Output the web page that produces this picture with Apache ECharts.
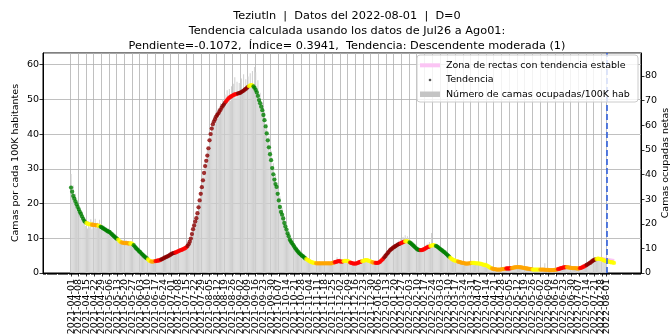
<!DOCTYPE html>
<html>
<head>
<meta charset="utf-8">
<script src="https://cdn.jsdelivr.net/npm/echarts@6/dist/echarts.min.js"></script>
<style>
  html, body { margin: 0; padding: 0; background: #fff; }
  #chart { width: 671px; height: 335px; }
</style>
</head>
<body>
<div id="chart"></div>
<script>
// ---- data ----
const firstDate = '2021-04-01';           // day 0 of all daily series
const axisFirstDay = -25;                 // x axis extent, in days from firstDate
const axisLastDay = 518;

const tickLabels = [
  '2021-04-01','2021-04-08','2021-04-15','2021-04-22','2021-04-29','2021-05-06','2021-05-13','2021-05-20','2021-05-27',
  '2021-06-03','2021-06-10','2021-06-17','2021-06-24','2021-07-01','2021-07-08','2021-07-15','2021-07-22','2021-07-29',
  '2021-08-05','2021-08-12','2021-08-19','2021-08-26','2021-09-02','2021-09-09','2021-09-16','2021-09-23','2021-09-30',
  '2021-10-07','2021-10-14','2021-10-21','2021-10-28','2021-11-04','2021-11-11','2021-11-18','2021-11-25','2021-12-02',
  '2021-12-09','2021-12-16','2021-12-23','2021-12-30','2022-01-06','2022-01-13','2022-01-20','2022-01-27','2022-02-03',
  '2022-02-10','2022-02-17','2022-02-24','2022-03-03','2022-03-10','2022-03-17','2022-03-24','2022-03-31','2022-04-07',
  '2022-04-14','2022-04-21','2022-04-28','2022-05-05','2022-05-12','2022-05-19','2022-05-26','2022-06-02','2022-06-09',
  '2022-06-16','2022-06-23','2022-06-30','2022-07-07','2022-07-14','2022-07-21','2022-07-28','2022-08-01'
];
const reportDate = '2022-08-01';

// daily occupied beds per 100K inhabitants, from 2021-04-01
const bedsPer100k = [
  28.5,22.0,25.2,19.5,22.8,18.0,20.5,16.2,19.0,15.5,
  17.8,14.2,16.0,13.5,15.2,12.8,14.9,13.2,15.5,12.6,
  14.8,13.0,15.6,12.9,14.5,13.8,15.3,12.5,14.0,12.2,
  13.6,11.8,13.2,11.5,12.8,10.9,12.4,10.5,11.8,10.2,
  11.0,9.5,10.6,9.0,9.9,8.4,9.6,8.2,9.4,8.0,
  9.5,8.1,9.2,7.9,9.0,8.2,9.3,7.4,8.1,6.8,
  7.4,6.0,6.9,5.6,6.3,4.9,5.7,4.4,5.0,3.9,
  4.5,3.3,3.8,2.9,3.7,3.1,3.9,3.0,3.8,3.4,
  4.0,3.3,4.3,3.7,4.6,4.0,4.9,4.3,5.2,4.6,
  5.6,5.0,6.0,5.3,6.2,5.5,6.4,5.8,6.7,6.1,
  7.0,6.4,7.3,6.6,7.6,7.0,8.2,8.0,9.8,9.5,
  12.0,12.9,14.6,14.0,17.1,16.5,20.3,20.0,24.1,23.8,
  28.2,27.6,32.5,31.0,35.8,35.2,40.1,39.0,43.5,41.8,
  45.2,43.0,46.8,44.2,47.5,45.1,48.9,46.2,50.1,47.3,
  51.4,48.2,52.6,49.1,53.0,49.6,53.8,50.2,54.5,56.4,
  50.4,55.1,50.9,54.7,51.2,56.0,51.6,57.2,52.0,55.8,
  52.9,56.6,53.1,57.5,53.4,58.2,52.8,59.3,57.8,51.2,
  55.5,48.6,51.9,46.8,49.2,44.1,46.5,41.3,43.0,37.9,
  39.4,33.8,35.1,30.0,31.6,27.2,28.4,24.5,25.3,21.0,
  22.1,17.9,18.8,15.6,16.5,13.2,14.0,11.5,12.2,9.8,
  10.4,8.6,9.2,7.6,8.3,6.9,7.4,6.2,6.6,5.5,
  5.9,4.9,5.3,4.4,4.8,3.9,4.2,3.5,3.8,3.1,
  3.5,2.8,3.2,2.6,3.1,2.7,3.3,2.5,3.0,2.6,
  3.2,2.5,3.0,2.7,3.3,2.6,3.1,2.5,3.2,2.9,
  3.6,3.0,4.5,3.4,4.2,3.1,3.8,3.2,3.9,3.4,
  4.0,3.3,3.6,2.9,3.3,2.7,3.1,2.5,2.9,2.6,
  3.2,2.8,3.5,3.1,3.9,3.3,4.0,3.5,4.2,3.6,
  3.9,3.3,3.7,3.0,3.4,2.8,3.3,2.7,3.2,2.8,
  3.4,3.1,4.0,3.6,4.6,4.2,5.4,5.0,6.3,5.9,
  7.2,6.6,7.8,7.1,8.3,7.5,8.7,8.0,9.3,8.5,
  9.8,8.8,10.4,9.2,10.9,9.5,10.6,9.1,9.7,8.6,
  9.0,7.9,8.2,7.1,7.6,6.5,7.2,6.3,7.0,6.2,
  7.3,6.5,7.8,6.9,8.4,7.3,8.9,7.6,11.5,7.9,
  8.6,7.6,8.2,7.2,7.9,6.8,7.3,6.3,6.8,5.8,
  6.3,5.3,5.7,4.7,5.1,4.2,4.5,3.7,4.0,3.4,
  3.8,3.1,3.5,3.0,3.3,2.8,3.1,2.7,3.0,2.5,
  3.0,2.5,3.1,2.6,3.2,2.7,3.3,2.6,3.1,2.6,
  3.0,2.5,2.9,2.4,2.7,2.2,2.5,2.1,2.4,1.9,
  2.0,1.5,1.7,1.2,1.4,1.0,1.3,0.9,1.2,0.9,
  1.2,0.9,1.3,1.0,1.4,1.1,1.5,1.2,1.5,1.2,
  1.6,1.3,1.8,1.4,1.9,1.5,1.9,1.6,1.8,1.5,
  1.8,1.4,1.7,1.3,1.5,1.2,1.4,1.1,1.3,1.0,
  1.2,0.9,1.2,0.9,1.1,0.9,1.2,0.8,1.1,0.9,
  1.1,2.8,1.0,0.7,1.0,0.7,0.9,0.7,1.0,0.6,
  1.0,0.8,1.2,0.9,1.4,1.1,1.6,1.3,1.8,1.5,
  1.9,1.5,1.8,1.4,1.7,1.3,1.6,1.3,1.6,1.2,
  1.5,1.2,1.5,1.3,1.7,1.5,2.0,1.8,2.4,2.1,
  2.8,2.4,3.2,2.8,3.7,3.2,4.1,3.6,4.4,3.9,
  4.4,3.8,4.3,3.6,4.0,3.4,3.8,3.2
];

// smoothed trend per day, from 2021-04-01
const trendValues = [
  24.6,23.4,22.2,21.4,20.6,19.8,19.0,18.3,17.6,17.0,
  16.3,15.6,15.0,14.6,14.4,14.2,14.1,14.0,14.0,13.9,
  13.9,13.8,13.8,13.7,13.7,13.6,13.5,13.3,13.1,12.9,
  12.7,12.5,12.3,12.1,11.9,11.8,11.5,11.2,10.9,10.6,
  10.3,10.0,9.8,9.6,9.2,8.9,8.8,8.7,8.7,8.6,
  8.6,8.6,8.5,8.5,8.5,8.5,8.3,8.0,7.6,7.2,
  6.9,6.6,6.2,6.0,5.6,5.3,5.0,4.7,4.4,4.2,
  3.9,3.6,3.4,3.3,3.3,3.3,3.4,3.4,3.5,3.6,
  3.6,3.7,3.9,4.0,4.2,4.4,4.5,4.7,4.8,5.0,
  5.2,5.4,5.6,5.7,5.8,5.9,6.0,6.2,6.3,6.5,
  6.6,6.7,6.9,7.0,7.2,7.4,7.8,8.3,9.0,9.9,
  11.2,12.6,13.7,14.8,15.8,17.2,18.9,20.9,22.8,24.7,
  26.7,28.8,30.8,32.3,33.8,35.9,38.2,40.0,41.6,42.8,
  43.6,44.3,45.0,45.5,45.9,46.5,47.0,47.6,48.1,48.5,
  49.0,49.4,49.8,50.2,50.5,50.7,50.9,51.1,51.3,51.4,
  51.5,51.6,51.7,51.8,51.9,52.1,52.3,52.5,52.8,53.0,
  53.3,53.6,53.8,54.0,54.1,54.0,53.7,53.3,52.7,52.0,
  51.0,49.8,48.9,47.9,46.9,45.5,44.0,42.2,40.2,38.2,
  36.2,34.2,32.5,30.2,28.4,26.9,25.6,24.8,22.8,20.9,
  19.0,17.6,16.8,15.7,14.4,13.4,12.5,11.4,10.6,9.6,
  9.1,8.6,8.1,7.6,7.1,6.7,6.3,5.9,5.6,5.3,
  5.0,4.8,4.5,4.2,4.0,3.8,3.6,3.4,3.2,3.1,
  3.0,2.9,2.9,2.8,2.8,2.8,2.8,2.8,2.8,2.8,
  2.8,2.8,2.8,2.8,2.8,2.8,2.8,2.8,2.9,3.0,
  3.1,3.2,3.3,3.4,3.4,3.3,3.3,3.3,3.4,3.5,
  3.5,3.5,3.4,3.2,3.0,2.9,2.8,2.7,2.7,2.7,
  2.8,2.9,3.1,3.2,3.3,3.4,3.5,3.6,3.7,3.7,
  3.6,3.5,3.4,3.2,3.1,3.0,3.0,2.9,2.9,2.9,
  3.0,3.2,3.5,3.8,4.1,4.5,4.9,5.3,5.7,6.1,
  6.5,6.8,7.0,7.3,7.5,7.7,7.9,8.1,8.3,8.4,
  8.6,8.7,8.9,9.0,9.1,9.2,9.1,9.0,8.8,8.6,
  8.3,8.0,7.7,7.4,7.1,6.8,6.7,6.6,6.6,6.6,
  6.7,6.8,7.0,7.2,7.4,7.5,7.6,7.8,7.9,8.0,
  8.0,7.9,7.8,7.6,7.4,7.1,6.9,6.6,6.4,6.1,
  5.9,5.6,5.3,5.0,4.7,4.4,4.1,3.9,3.7,3.6,
  3.5,3.4,3.3,3.2,3.1,3.0,2.9,2.9,2.8,2.7,
  2.7,2.7,2.8,2.8,2.9,2.9,2.9,2.9,2.8,2.8,
  2.8,2.7,2.7,2.6,2.5,2.4,2.3,2.3,2.2,2.0,
  1.8,1.6,1.4,1.3,1.2,1.1,1.1,1.0,1.0,1.0,
  1.0,1.0,1.1,1.1,1.2,1.2,1.3,1.3,1.3,1.3,
  1.4,1.4,1.5,1.6,1.6,1.7,1.7,1.7,1.7,1.6,
  1.6,1.5,1.5,1.4,1.3,1.3,1.2,1.2,1.1,1.1,
  1.0,1.0,1.0,1.0,1.0,1.0,1.0,1.0,1.0,1.0,
  1.0,0.9,0.9,0.9,0.9,0.8,0.8,0.8,0.8,0.8,
  0.9,0.9,1.0,1.1,1.2,1.3,1.4,1.5,1.6,1.6,
  1.7,1.7,1.6,1.6,1.5,1.5,1.4,1.4,1.4,1.4,
  1.3,1.3,1.3,1.4,1.5,1.6,1.8,1.9,2.1,2.3,
  2.5,2.7,2.9,3.1,3.4,3.6,3.8,3.9,4.0,4.1,
  4.1,4.0,4.0,3.9,3.7,3.6,3.5,3.4,3.4,3.3,
  3.2,3.1,3.1,3.0,2.9
];

// trend class per run of days: G descending, Y stable, O/R/D rising (mild to strong)
const trendClassRuns = [
  ['G',14],['Y',5],['O',6],['Y',2],['G',16],['Y',3],['O',8],['Y',3],['G',13],['Y',3],
  ['O',4],['R',5],['D',13],['R',11],['D',35],['R',11],['D',10],['Y',4],['G',48],['Y',9],
  ['O',17],['R',8],['Y',6],['R',11],['Y',9],['O',3],['R',8],['D',15],['R',4],['Y',4],
  ['G',10],['R',9],['Y',5],['G',13],['Y',7],['O',13],['Y',18],['O',13],['R',5],['O',19],
  ['Y',7],['O',16],['R',8],['O',12],['R',6],['D',9],['Y',17]
];
const trendClassColors = { G: '#008000', Y: '#ffff00', O: '#ffa500', R: '#ff0000', D: '#8b0000' };

// stable-trend zone drawn around the last week: [day, value]
const stableZone = [[481, 4.0], [494, 3.3]];

// ---- build axis categories ----
function dateAt(offset) {
  const [y, m, d] = firstDate.split('-').map(Number);
  return new Date(Date.UTC(y, m - 1, d) + offset * 86400000).toISOString().slice(0, 10);
}
const categories = [];
for (let d = axisFirstDay; d <= axisLastDay; d++) categories.push(dateAt(d));
const idx = d => d - axisFirstDay;
const tickPos = new Map(tickLabels.map((t, k) => [t, k]));
const isTick = (i) => tickPos.has(categories[i]);
// date labels are split over two label rows (alternate weeks) that share the same line
const isEvenTick = (i) => tickPos.has(categories[i]) && tickPos.get(categories[i]) % 2 === 0;
const isOddTick = (i) => tickPos.has(categories[i]) && tickPos.get(categories[i]) % 2 === 1;

const barData = bedsPer100k.map((v, d) => [idx(d), v]);

const trendColorByDay = [];
trendClassRuns.forEach(([c, n]) => { for (let k = 0; k < n; k++) trendColorByDay.push(trendClassColors[c]); });
const trendData = trendValues.map((v, d) => ({ value: [idx(d), v], itemStyle: { color: trendColorByDay[d] } }));

const zoneData = stableZone.map(([d, v]) => [idx(d), v]);

// ---- chart ----
const FONT = 'DejaVu Sans';
const LEFT_MAX = 63.35, RIGHT_MAX = 89.35;
const chart = echarts.init(document.getElementById('chart'), null, { renderer: 'canvas' });

const dateLabelStyle = { show: true, hideOverlap: false, rotate: 90, margin: 6, fontSize: 9.5, color: '#000', fontFamily: FONT };

chart.setOption({
  animation: false,
  backgroundColor: '#ffffff',
  textStyle: { fontFamily: FONT },
  title: {
    text: 'Teziutln  |  Datos del 2022-08-01  |  D=0\n' +
          'Tendencia calculada usando los datos de Jul26 a Ago01:\n' +
          'Pendiente=-0.1072,  Índice= 0.3941,  Tendencia: Descendente moderada (1)',
    left: 342, top: 3, textAlign: 'center',
    textStyle: { fontFamily: FONT, fontSize: 11.3, fontWeight: 'normal', color: '#000', lineHeight: 15.3 }
  },
  grid: {
    left: 43, right: 30, top: 53, bottom: 62, containLabel: false, outerBoundsMode: 'none',
    show: true, borderColor: '#000', borderWidth: 1, backgroundColor: 'transparent'
  },
  xAxis: [
    {
      type: 'category', data: categories, boundaryGap: true, position: 'bottom',
      axisLine: { show: true, lineStyle: { color: '#000', width: 1 } },
      axisTick: { show: true, alignWithLabel: true, interval: isTick, length: 3.5, lineStyle: { color: '#000', width: 0.8 } },
      axisLabel: Object.assign({ interval: isEvenTick }, dateLabelStyle),
      splitLine: { show: true, interval: isTick, lineStyle: { color: '#b0b0b0', width: 0.8 } }
    },
    {
      type: 'category', data: categories, boundaryGap: true, position: 'bottom',
      axisLine: { show: false },
      axisTick: { show: true, alignWithLabel: true, interval: 0, length: 2, lineStyle: { color: '#000', width: 0.6 } },
      axisLabel: { show: false },
      splitLine: { show: false }
    },
    {
      type: 'category', data: categories, boundaryGap: true, position: 'bottom',
      axisLine: { show: false },
      axisTick: { show: false },
      axisLabel: Object.assign({ interval: isOddTick }, dateLabelStyle),
      splitLine: { show: false }
    }
  ],
  yAxis: [
    {
      type: 'value', min: 0, max: LEFT_MAX, interval: 10, position: 'left',
      name: 'Camas por cada 100K habitantes', nameLocation: 'middle', nameRotate: 90, nameGap: 22,
      nameMoveOverlap: false,
      nameTextStyle: { fontFamily: FONT, fontSize: 9.5, color: '#000' },
      axisLine: { show: true, lineStyle: { color: '#000', width: 1 } },
      axisTick: { show: true, length: 3.5, lineStyle: { color: '#000', width: 0.8 } },
      axisLabel: { fontSize: 9.5, color: '#000', margin: 4, fontFamily: FONT, showMaxLabel: false,
                   formatter: v => (Math.abs(v % 10) < 1e-6 ? String(v) : '') },
      splitLine: { show: true, lineStyle: { color: '#b0b0b0', width: 0.8 } }
    },
    {
      type: 'value', min: 0, max: RIGHT_MAX, interval: 10, position: 'right',
      name: 'Camas ocupadas netas', nameLocation: 'middle', nameRotate: 90, nameGap: 20,
      nameMoveOverlap: false,
      nameTextStyle: { fontFamily: FONT, fontSize: 9.5, color: '#000' },
      axisLine: { show: true, lineStyle: { color: '#000', width: 1 } },
      axisTick: { show: true, length: 3.5, lineStyle: { color: '#000', width: 0.8 } },
      axisLabel: { fontSize: 9.5, color: '#000', margin: 4, fontFamily: FONT, showMaxLabel: false,
                   formatter: v => (Math.abs(v % 10) < 1e-6 ? String(v) : '') },
      splitLine: { show: false }
    }
  ],
  series: [
    {
      name: 'Número de camas ocupadas/100K hab', type: 'bar', xAxisIndex: 0, yAxisIndex: 0,
      data: barData, barWidth: '50%', itemStyle: { color: '#cfcfcf' }, z: 2, silent: true,
      markLine: {
        silent: true, symbol: 'none', label: { show: false },
        lineStyle: { color: '#3060dd', type: [6, 3], width: 1.6 },
        data: [{ xAxis: reportDate }]
      }
    },
    {
      name: 'Zona de rectas con tendencia estable', type: 'line', xAxisIndex: 0, yAxisIndex: 0,
      data: zoneData, symbol: 'none', lineStyle: { color: '#fbc4f4', width: 5 }, z: 3, silent: true
    },
    {
      name: 'Tendencia', type: 'scatter', xAxisIndex: 0, yAxisIndex: 0,
      data: trendData, symbolSize: 4.3, z: 4, silent: true
    }
  ],
  graphic: [
    { type: 'rect', z: 100, shape: { x: 417, y: 55, width: 221, height: 47, r: 3 },
      style: { fill: 'rgba(255,255,255,0.8)', stroke: '#cccccc', lineWidth: 1 } },
    { type: 'rect', z: 101, shape: { x: 420, y: 63.3, width: 20, height: 4 }, style: { fill: '#fbc4f4' } },
    { type: 'circle', z: 101, shape: { cx: 430, cy: 80, r: 1.3 }, style: { fill: '#555555' } },
    { type: 'rect', z: 101, shape: { x: 420, y: 91.5, width: 20, height: 5.5 }, style: { fill: '#c4c4c4' } },
    { type: 'text', z: 101, x: 446, y: 65.3, style: { text: 'Zona de rectas con tendencia estable', fill: '#000', font: '9.5px "DejaVu Sans"', verticalAlign: 'middle' } },
    { type: 'text', z: 101, x: 446, y: 80, style: { text: 'Tendencia', fill: '#000', font: '9.5px "DejaVu Sans"', verticalAlign: 'middle' } },
    { type: 'text', z: 101, x: 446, y: 94.3, style: { text: 'Número de camas ocupadas/100K hab', fill: '#000', font: '9.5px "DejaVu Sans"', verticalAlign: 'middle' } }
  ]
});
</script>
</body>
</html>
